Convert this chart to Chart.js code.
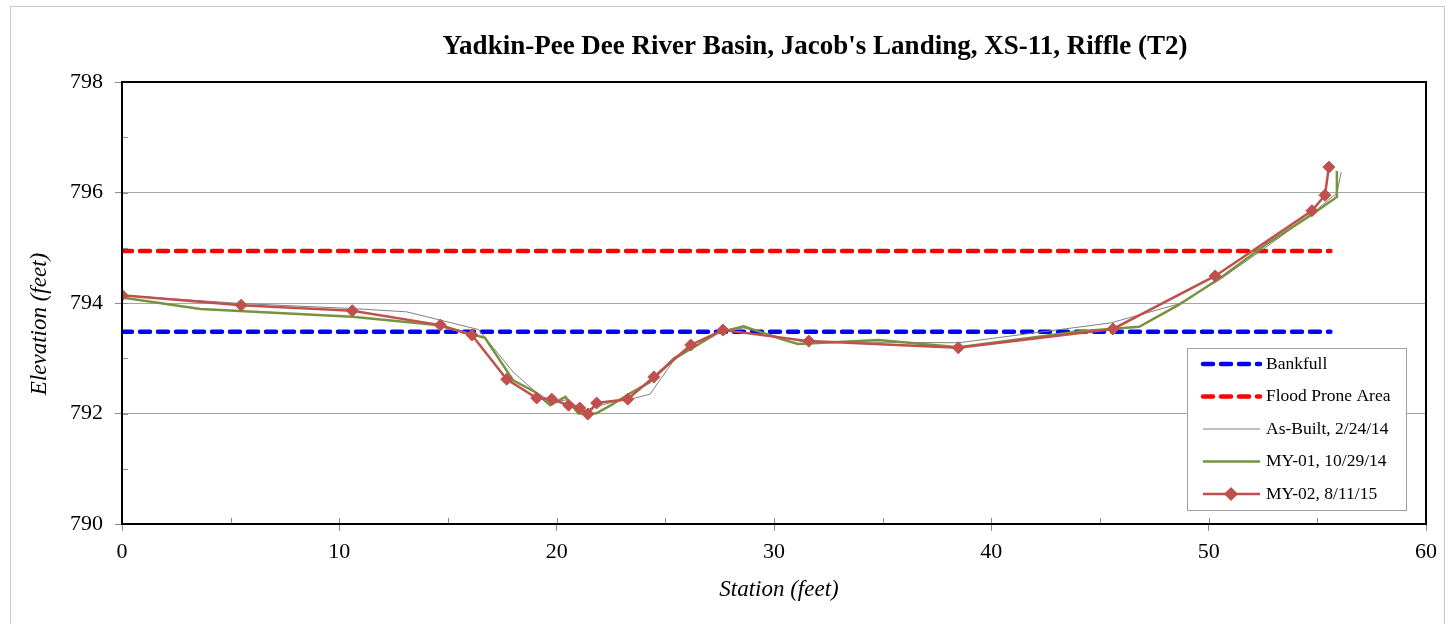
<!DOCTYPE html>
<html>
<head>
<meta charset="utf-8">
<script src="https://cdn.jsdelivr.net/npm/chart.js@4"></script>
<style>
  html, body { margin: 0; padding: 0; background: #fff; }
  #wrap { width: 1456px; height: 624px; }
</style>
</head>
<body>
<div id="wrap"><canvas id="xsChart" width="1456" height="624"></canvas></div>
<script>
// Station / elevation values
const bankfullStation = [0, 55.6];
const bankfullElev = [793.48, 793.48];
const floodStation = [0, 55.6];
const floodElev = [794.94, 794.94];

const asBuiltStation = [0, 5.5, 10.6, 13.1, 16.4, 18.0, 19.0, 19.8, 20.5, 21.2, 22.5, 23.3, 24.3, 25.4, 27.4, 28.6, 30.3, 31.3, 38.5, 45.5, 48.6, 50.5, 52.6, 54.7, 55.9, 56.1];
const asBuiltElev = [794.14, 793.99, 793.9, 793.84, 793.52, 792.75, 792.4, 792.2, 792.25, 792.05, 792.2, 792.25, 792.35, 792.97, 793.45, 793.55, 793.38, 793.3, 793.28, 793.64, 793.98, 794.42, 795.0, 795.6, 795.99, 796.37];

const my01Station = [0, 3.6, 10.6, 14.5, 16.7, 18.0, 19.0, 19.7, 20.4, 21.0, 21.8, 22.5, 23.4, 24.3, 25.4, 26.3, 27.4, 28.6, 30.3, 31.1, 34.8, 38.5, 44.1, 46.8, 48.6, 50.6, 52.6, 54.7, 55.9, 55.9];
const my01Elev = [794.1, 793.89, 793.75, 793.6, 793.37, 792.6, 792.39, 792.15, 792.3, 792.0, 792.0, 792.15, 792.37, 792.57, 793.0, 793.2, 793.46, 793.58, 793.35, 793.26, 793.33, 793.2, 793.49, 793.57, 793.96, 794.47, 795.05, 795.59, 795.92, 796.39];

const my02Station = [0, 5.48, 10.6, 14.65, 16.1, 17.7, 19.08, 19.77, 20.55, 21.06, 21.43, 21.84, 23.27, 24.47, 26.17, 27.65, 31.6, 38.48, 45.6, 50.3, 54.75, 55.35, 55.53];
const my02Elev = [794.14, 793.96, 793.86, 793.6, 793.42, 792.62, 792.28, 792.26, 792.15, 792.1, 791.99, 792.19, 792.26, 792.66, 793.24, 793.51, 793.31, 793.19, 793.53, 794.49, 795.67, 795.95, 796.46];

const xTicks = [0, 10, 20, 30, 40, 50, 60];
const yTicks = [790, 792, 794, 796, 798];

const chartTitle = "Yadkin-Pee Dee River Basin, Jacob's Landing, XS-11, Riffle (T2)";
const xTitle = 'Station (feet)';
const yTitle = 'Elevation (feet)';

function pts(xs, ys) {
    return xs.map(function (x, i) { return { x: x, y: ys[i] }; });
}

const serif = '"Liberation Serif", "Times New Roman", serif';

// frame, plot border, minor ticks, titles, legend
const decorPlugin = {
    id: 'decor',
    beforeDraw: function (chart) {
        const ctx = chart.ctx;
        ctx.save();
        ctx.fillStyle = '#fff';
        ctx.fillRect(0, 0, chart.width, chart.height);
        ctx.strokeStyle = '#c8c8c8';
        ctx.lineWidth = 1;
        ctx.strokeRect(10.5, 6.5, 1434, 700);
        ctx.restore();
    },
    afterDraw: function (chart) {
        const ctx = chart.ctx;
        const a = chart.chartArea;
        const xs = chart.scales.x;
        const ys = chart.scales.y;
        ctx.save();

        // minor + inner ticks
        ctx.strokeStyle = '#8c8c8c';
        ctx.lineWidth = 1;
        ctx.beginPath();
        for (let v = 0; v <= 60; v += 5) {
            const px = Math.round(xs.getPixelForValue(v)) + 0.5;
            ctx.moveTo(px, a.bottom);
            ctx.lineTo(px, a.bottom - 6);
        }
        for (let v = 790; v <= 798; v += 1) {
            const py = Math.round(ys.getPixelForValue(v)) + 0.5;
            ctx.moveTo(a.left, py);
            ctx.lineTo(a.left + 6, py);
        }
        ctx.stroke();

        // plot border
        ctx.strokeStyle = '#000';
        ctx.lineWidth = 2;
        ctx.strokeRect(a.left, a.top, a.right - a.left, a.bottom - a.top);

        // titles
        ctx.fillStyle = '#000';
        ctx.textAlign = 'center';
        ctx.textBaseline = 'middle';
        ctx.font = 'bold 27px ' + serif;
        ctx.fillText(chartTitle, 815, 47);
        ctx.font = 'italic 23px ' + serif;
        ctx.fillText(xTitle, 779, 590);
        ctx.translate(40, 324);
        ctx.rotate(-Math.PI / 2);
        ctx.fillText(yTitle, 0, 0);
        ctx.setTransform(1, 0, 0, 1, 0, 0);

        // legend box
        const lx = 1187, ly = 348, lw = 219, lh = 162;
        ctx.fillStyle = '#fff';
        ctx.fillRect(lx, ly, lw, lh);
        ctx.strokeStyle = '#a0a0a0';
        ctx.lineWidth = 1;
        ctx.strokeRect(lx + 0.5, ly + 0.5, lw, lh);

        const rows = chart.data.datasets;
        rows.forEach(function (ds, i) {
            const y = ly + 16 + i * 32.5;
            ctx.save();
            ctx.strokeStyle = ds.borderColor;
            ctx.lineWidth = ds.borderWidth;
            ctx.lineCap = ds.borderCapStyle || 'butt';
            ctx.setLineDash(ds.borderDash || []);
            ctx.beginPath();
            ctx.moveTo(lx + 16, y);
            ctx.lineTo(lx + 73, y);
            ctx.stroke();
            if (ds.pointRadius > 0) {
                const cx = lx + 44, r = ds.pointRadius + 1;
                ctx.setLineDash([]);
                ctx.fillStyle = ds.pointBackgroundColor;
                ctx.beginPath();
                ctx.moveTo(cx, y - r);
                ctx.lineTo(cx + r, y);
                ctx.lineTo(cx, y + r);
                ctx.lineTo(cx - r, y);
                ctx.closePath();
                ctx.fill();
            }
            ctx.restore();
            ctx.fillStyle = '#000';
            ctx.textAlign = 'left';
            ctx.textBaseline = 'middle';
            ctx.font = '17.5px ' + serif;
            ctx.fillText(ds.label, lx + 79, y);
        });
        ctx.restore();
    }
};

const ctx = document.getElementById('xsChart').getContext('2d');
const xsChart = new Chart(ctx, {
    type: 'line',
    data: {
        datasets: [{
            label: 'Bankfull',
            data: pts(bankfullStation, bankfullElev),
            borderColor: '#0000ff',
            borderWidth: 4.5,
            borderDash: [10, 8],
            borderCapStyle: 'round',
            pointRadius: 0,
            order: 3
        }, {
            label: 'Flood Prone Area',
            data: pts(floodStation, floodElev),
            borderColor: '#ff0000',
            borderWidth: 4.5,
            borderDash: [10, 8],
            borderCapStyle: 'round',
            pointRadius: 0,
            order: 4
        }, {
            label: 'As-Built, 2/24/14',
            data: pts(asBuiltStation, asBuiltElev),
            borderColor: '#7f7f7f',
            borderWidth: 1,
            pointRadius: 0,
            order: 2
        }, {
            label: 'MY-01, 10/29/14',
            data: pts(my01Station, my01Elev),
            borderColor: '#77933c',
            borderWidth: 2.5,
            pointRadius: 0,
            order: 1
        }, {
            label: 'MY-02, 8/11/15',
            data: pts(my02Station, my02Elev),
            borderColor: '#c0504d',
            borderWidth: 2.5,
            pointStyle: 'rectRot',
            pointRadius: 6,
            pointBackgroundColor: '#c0504d',
            pointBorderColor: '#c0504d',
            pointBorderWidth: 1,
            order: 0
        }]
    },
    options: {
        responsive: false,
        animation: false,
        devicePixelRatio: 1,
        layout: { padding: { left: 0, top: 82, right: 30, bottom: 0 } },
        plugins: {
            legend: { display: false },
            title: { display: false },
            tooltip: { enabled: false }
        },
        scales: {
            x: {
                type: 'linear',
                min: 0,
                max: 60,
                afterBuildTicks: function (s) { s.ticks = xTicks.map(function (v) { return { value: v }; }); },
                afterFit: function (s) { s.height = 100; },
                border: { display: false },
                grid: { drawOnChartArea: false, tickLength: 7, color: '#8c8c8c' },
                ticks: { color: '#000', padding: 8, font: { family: serif, size: 22 } }
            },
            y: {
                type: 'linear',
                min: 790,
                max: 798,
                afterBuildTicks: function (s) { s.ticks = yTicks.map(function (v) { return { value: v }; }); },
                afterFit: function (s) { s.width = 122; },
                border: { display: false },
                grid: { color: '#a6a6a6', tickColor: '#8c8c8c', tickLength: 7 },
                ticks: { color: '#000', padding: 12, font: { family: serif, size: 22 } }
            }
        }
    },
    plugins: [decorPlugin]
});
</script>
</body>
</html>
